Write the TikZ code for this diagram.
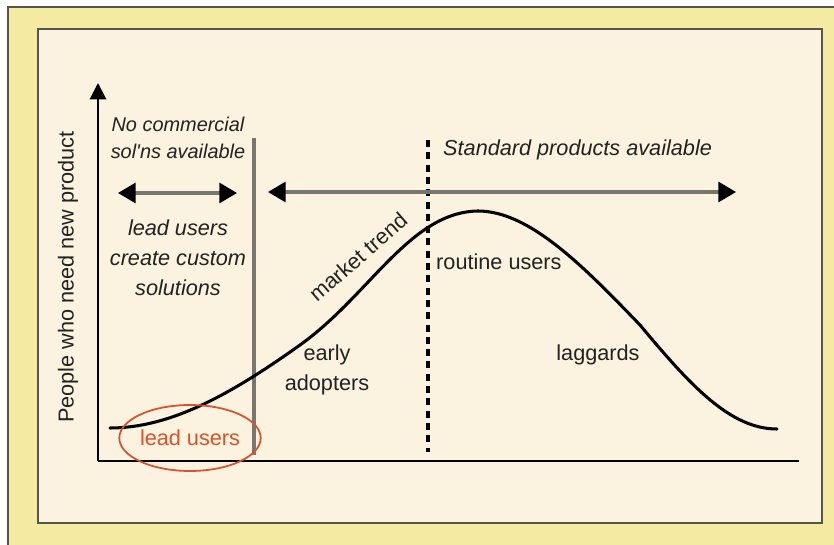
\documentclass[tikz,border=0pt]{standalone}
\usepackage{fontspec}
\setmainfont{Liberation Sans}
\usetikzlibrary{arrows.meta,shapes.geometric}
\definecolor{frameyellow}{HTML}{F5EAA2}
\definecolor{panelcream}{HTML}{FBF2DF}
\definecolor{edgegray}{HTML}{55554F}
\definecolor{leadred}{HTML}{D8532B}
\definecolor{bargray}{HTML}{77776F}
\definecolor{inkgray}{HTML}{222222}
\begin{document}
\begin{tikzpicture}[x=0.03cm, y=-0.03cm,
    txt/.style={font=\fontsize{18.5}{25.6}\selectfont, text=inkgray, inner sep=0pt, align=center},
    itxt/.style={txt, font=\fontsize{18.5}{25.6}\selectfont\itshape},
    span/.style={bargray, line width=2.6pt, {Triangle[length=15pt, width=17pt, color=black]}-{Triangle[length=15pt, width=17pt, color=black]}},
    axis/.style={black, line width=1.7pt},
    divider/.style={bargray, line width=2.6pt},
    curve/.style={black, line width=2.6pt, line cap=round}]
    \useasboundingbox (0,0) rectangle (834,545);
    \fill[white] (0,0) rectangle (834,545);
    \fill[frameyellow] (8,7) rectangle (834,545);
    \draw[edgegray, line width=2pt] (8,545) -- (8,7) -- (834,7);
    \draw[edgegray, line width=1.8pt, fill=panelcream] (38,29) rectangle (822,523);

    \coordinate (origin) at (98,461);
    \coordinate (ytip) at (98,83);
    \coordinate (xend) at (799,461);
    \draw[axis, -{Triangle[length=14pt, width=14pt]}] (origin) -- (ytip);
    \draw[axis] (origin) -- (xend);

    \coordinate (gtop) at (254,138);
    \coordinate (gbot) at (254,455);
    \draw[divider] (gtop) -- (gbot);
    \coordinate (dtop) at (428,140);
    \coordinate (dbot) at (428,452);
    \draw[black, line width=2.6pt, dash pattern=on 6pt off 4.5pt] (dtop) -- (dbot);

    \coordinate (nl) at (118,193);
    \coordinate (nr) at (237,193);
    \coordinate (sl) at (268,192);
    \coordinate (sr) at (736,192);
    \draw[span] (nl) -- (nr);
    \draw[span] (sl) -- (sr);

    % bell curve
    \coordinate (cstart) at (110,428);
    \coordinate (cpeak) at (478,211);
    \coordinate (cend) at (777,429);
    \draw[curve] (cstart) .. controls (170,428) and (230,395) .. (300,345)
      .. controls (370,295) and (410,212) .. (cpeak)
      .. controls (530,211) and (585,268) .. (640,325)
      .. controls (690,385) and (730,429) .. (cend);

    \node[txt, rotate=90] (ylabel) at (68,277) {People who need new product};
    \node[itxt, font=\fontsize{17}{23}\selectfont\itshape] (nocomm) at (178,138) {No commercial\\sol\textquotesingle ns available};
    \node[itxt] (custom) at (178,258) {lead users\\create custom\\solutions};
    \node[itxt, anchor=west] (standard) at (443,150) {Standard products available};
    \node[txt, rotate=41] (trend) at (358,257) {market trend};
    \node[txt, anchor=west] (routine) at (436,262) {routine users};
    \node[txt] (early) at (327,370) {early\\adopters};
    \node[txt] (laggards) at (598,355) {laggards};
    \node[ellipse, draw=leadred, line width=1.5pt, text=leadred, font=\fontsize{18.5}{22}\selectfont,
      minimum width=3.63cm, minimum height=1.98cm, inner sep=0pt] (lead) at (190,438) {lead users};
\end{tikzpicture}
\end{document}
